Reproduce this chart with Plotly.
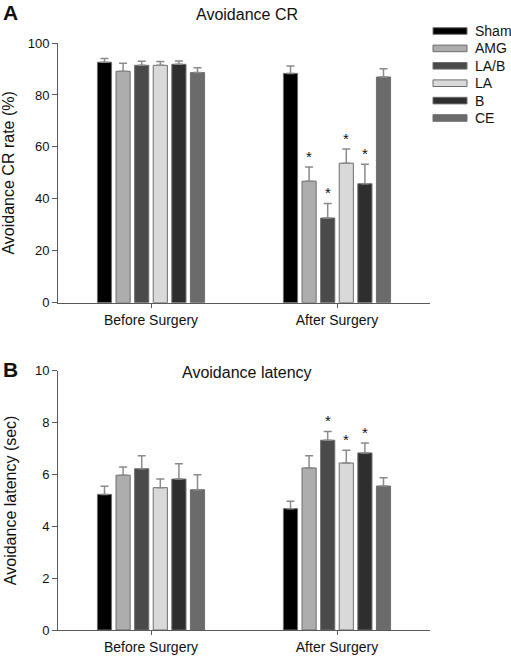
import plotly.graph_objects as go

# ---------------- data ----------------
periods = ["Before Surgery", "After Surgery"]
groups = ["Sham", "AMG", "LA/B", "LA", "B", "CE"]
colors = ["#000000", "#adadad", "#4a4a4a", "#d9d9d9", "#2e2e2e", "#6b6b6b"]

# Panel A: Avoidance CR rate (%)  [before, after]
cr_sham = [92.6, 88.3]
cr_amg = [89.1, 46.8]
cr_lab = [91.4, 32.6]
cr_la = [91.4, 53.7]
cr_b = [91.8, 45.8]
cr_ce = [88.6, 86.9]
cr_err_sham = [1.4, 2.8]
cr_err_amg = [3.1, 5.5]
cr_err_lab = [1.6, 5.6]
cr_err_la = [1.5, 5.5]
cr_err_b = [1.3, 7.5]
cr_err_ce = [1.9, 3.2]
cr_sig = [[False, False], [False, True], [False, True], [False, True], [False, True], [False, False]]

# Panel B: Avoidance latency (sec)  [before, after]
lat_sham = [5.23, 4.68]
lat_amg = [5.97, 6.25]
lat_lab = [6.22, 7.32]
lat_la = [5.49, 6.44]
lat_b = [5.82, 6.83]
lat_ce = [5.41, 5.55]
lat_err_sham = [0.31, 0.29]
lat_err_amg = [0.32, 0.47]
lat_err_lab = [0.50, 0.34]
lat_err_la = [0.33, 0.49]
lat_err_b = [0.59, 0.38]
lat_err_ce = [0.58, 0.32]
lat_sig = [[False, False], [False, False], [False, True], [False, True], [False, True], [False, False]]

cr_vals = [cr_sham, cr_amg, cr_lab, cr_la, cr_b, cr_ce]
cr_errs = [cr_err_sham, cr_err_amg, cr_err_lab, cr_err_la, cr_err_b, cr_err_ce]
lat_vals = [lat_sham, lat_amg, lat_lab, lat_la, lat_b, lat_ce]
lat_errs = [lat_err_sham, lat_err_amg, lat_err_lab, lat_err_la, lat_err_b, lat_err_ce]

# ---------------- style ----------------
FONT = "Liberation Sans, Arial, sans-serif"
TXT = "#111111"
AXC = "#5a5a5a"
BARGAP = 0.40
BARGROUPGAP = 0.24
W, H = 511, 657
ML, MR, MT, MB = 58, 81, 43, 27
PW, PH = W - ML - MR, H - MT - MB


def px_x(x):
    return (x - ML) / PW


def px_y(y):
    return 1 - (y - MT) / PH


fig = go.Figure()

panels = [("x", "y", cr_vals, cr_errs, cr_sig), ("x2", "y2", lat_vals, lat_errs, lat_sig)]
annotations = []
n = len(groups)
slot = (1 - BARGAP) / n
for xa, ya, vals, errs, sig in panels:
    for i, g in enumerate(groups):
        fig.add_trace(go.Bar(
            x=periods, y=vals[i], name=g, xaxis=xa, yaxis=ya,
            marker=dict(color=colors[i], line=dict(color="#6e6e6e", width=1)),
            error_y=dict(type="data", array=errs[i], arrayminus=[0] * len(periods),
                         symmetric=False, color="#8a8a8a", thickness=1.5, width=4),
            showlegend=False, hoverinfo="skip",
        ))
        for j in range(len(periods)):
            if sig[i][j]:
                annotations.append(dict(
                    x=j + (i - (n - 1) / 2) * slot, y=vals[i][j] + errs[i][j],
                    xref=xa, yref=ya, text="*", showarrow=False,
                    xanchor="center", yanchor="bottom", yshift=0,
                    font=dict(family=FONT, size=15, color=TXT)))

# titles and panel letters
annotations += [
    dict(x=px_x(247), y=px_y(14), xref="paper", yref="paper", text="Avoidance CR",
         xanchor="center", yanchor="middle",
         showarrow=False, font=dict(family=FONT, size=16, color=TXT)),
    dict(x=px_x(247), y=px_y(372), xref="paper", yref="paper", text="Avoidance latency",
         xanchor="center", yanchor="middle",
         showarrow=False, font=dict(family=FONT, size=16, color=TXT)),
    dict(x=px_x(10), y=px_y(13), xref="paper", yref="paper", text="<b>A</b>",
         xanchor="center", yanchor="middle",
         showarrow=False, font=dict(family=FONT, size=21, color=TXT)),
    dict(x=px_x(10), y=px_y(369), xref="paper", yref="paper", text="<b>B</b>",
         xanchor="center", yanchor="middle",
         showarrow=False, font=dict(family=FONT, size=21, color=TXT)),
]

# legend (manual, wide flat swatches)
shapes = []
for i, g in enumerate(groups):
    yc = 31 + i * 17.4
    shapes.append(dict(type="rect", xref="paper", yref="paper",
                       x0=px_x(433), x1=px_x(467), y0=px_y(yc + 3.3), y1=px_y(yc - 3.3),
                       fillcolor=colors[i], line=dict(color="#6e6e6e", width=1)))
    annotations.append(dict(x=px_x(473), y=px_y(yc), xref="paper", yref="paper",
                            text=g, showarrow=False, xanchor="left", yanchor="middle",
                            font=dict(family=FONT, size=14, color=TXT)))

axis_common = dict(showline=True, linecolor=AXC, linewidth=1, showgrid=False, zeroline=False,
                   automargin=False,
                   ticks="outside", tickcolor=AXC, tickfont=dict(family=FONT, size=13, color=TXT))

fig.update_layout(
    width=W, height=H, autosize=False,
    margin=dict(l=ML, r=MR, t=MT, b=MB),
    paper_bgcolor="white", plot_bgcolor="white",
    barmode="group", bargap=BARGAP, bargroupgap=BARGROUPGAP,
    showlegend=False,
    xaxis=dict(domain=[0, 1], anchor="y", range=[-0.5, 1.5], ticklen=4, ticklabelstandoff=0, **axis_common),
    xaxis2=dict(domain=[0, 1], anchor="y2", range=[-0.5, 1.5], ticklen=4, ticklabelstandoff=0, **axis_common),
    yaxis=dict(domain=[px_y(302.7), 1], anchor="x", range=[0, 100], dtick=20, ticklen=5,
               title=dict(text="Avoidance CR rate (%)", font=dict(family=FONT, size=16, color=TXT), standoff=14),
               **axis_common),
    yaxis2=dict(domain=[0, px_y(370.7)], anchor="x2", range=[0, 10], dtick=2, ticklen=5,
                title=dict(text="Avoidance latency (sec)", font=dict(family=FONT, size=16, color=TXT), standoff=14),
                **axis_common),
    annotations=annotations,
    shapes=shapes,
)
fig.update_xaxes(tickfont=dict(size=14))

fig.write_html(
    "out.html",
    config={"displayModeBar": False, "responsive": False},
    post_script=(
        "document.documentElement.style.margin='0';"
        "document.documentElement.style.overflow='hidden';"
        "document.body.style.margin='0';document.body.style.padding='0';"
        "document.body.style.overflow='hidden';"
    ),
)
